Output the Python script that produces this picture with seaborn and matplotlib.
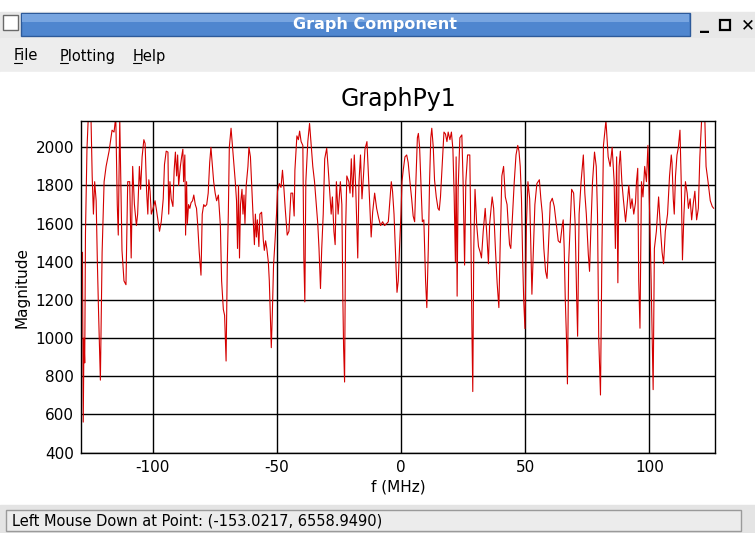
import matplotlib
matplotlib.use("Agg")
import matplotlib.pyplot as plt
from matplotlib.patches import Rectangle
import seaborn as sns
import pandas as pd

# ---------------- data ----------------
freq_mhz = [
    -128.2, -127.9, -127.6, -127.3, -127.0, -126.4, -125.8, -124.8, -124.3, -123.8,
    -123.3, -122.7, -122.2, -121.7, -121.0, -120.3, -119.5, -118.7, -117.5, -116.3,
    -115.5, -114.8, -114.2, -113.8, -113.2, -112.3, -111.5, -110.7, -110.0, -109.2,
    -108.6, -108.0, -107.3, -106.5, -106.0, -105.3, -104.8, -104.2, -103.5, -103.0,
    -102.4, -101.9, -101.5, -101.0, -100.5, -99.8, -99.0, -98.4, -97.2, -96.5,
    -95.7, -95.2, -94.5, -93.8, -93.5, -93.0, -92.5, -91.8, -91.3, -90.8,
    -90.3, -89.9, -89.5, -88.8, -88.3, -87.8, -87.5, -87.0, -86.7, -86.3,
    -86.0, -85.5, -85.0, -84.5, -83.9, -83.4, -82.8, -82.3, -81.8, -81.2,
    -80.5, -80.0, -79.4, -78.9, -78.2, -77.6, -77.0, -76.5, -76.0, -75.4,
    -74.8, -74.2, -73.5, -72.7, -72.2, -71.5, -71.0, -70.4, -69.9, -69.5,
    -69.1, -68.4, -67.8, -67.3, -66.7, -66.2, -65.8, -65.4, -65.0, -64.6,
    -64.0, -63.6, -63.2, -62.8, -62.3, -61.6, -61.2, -60.6, -60.1, -59.4,
    -59.0, -58.6, -58.2, -57.8, -57.2, -56.8, -56.1, -55.4, -55.0, -54.5,
    -54.0, -53.4, -53.0, -52.6, -52.2, -51.8, -51.3, -50.7, -50.1, -49.7,
    -49.0, -48.3, -47.7, -47.1, -46.6, -45.8, -45.1, -44.3, -43.6, -43.0,
    -42.7, -41.9, -41.3, -40.8, -40.2, -39.5, -39.1, -38.7, -38.3, -37.5,
    -36.8, -36.3, -35.5, -34.8, -34.1, -33.5, -33.0, -32.4, -31.9, -31.3,
    -30.7, -29.9, -29.3, -28.7, -28.1, -27.6, -27.0, -26.5, -26.0, -25.3,
    -24.4, -23.8, -23.4, -23.1, -22.7, -22.3, -21.8, -21.0, -20.5, -20.0,
    -19.4, -18.8, -18.2, -17.7, -17.4, -16.9, -16.3, -15.7, -15.1, -14.5,
    -13.7, -13.0, -12.5, -12.0, -11.4, -10.6, -9.8, -9.0, -8.2, -7.4,
    -6.6, -5.8, -5.1, -4.6, -3.9, -3.4, -2.8, -2.3, -1.6, -1.1,
    -0.6, 0.0, 0.4, 0.9, 1.6, 2.3, 2.9, 3.6, 4.3, 4.9,
    5.5, 6.0, 6.6, 7.0, 7.5, 8.0, 8.6, 9.2, 9.9, 10.4,
    11.0, 11.5, 12.0, 12.4, 13.0, 13.5, 14.2, 14.9, 15.4, 15.9,
    16.6, 17.3, 17.9, 18.5, 19.0, 19.7, 20.3, 20.9, 21.4, 21.9,
    22.2, 22.6, 23.0, 23.7, 24.5, 25.0, 25.6, 26.1, 26.8, 27.7,
    28.2, 28.6, 28.9, 29.3, 29.8, 30.5, 31.2, 31.9, 32.4, 33.1,
    33.9, 34.7, 35.2, 35.7, 36.7, 37.3, 38.0, 38.7, 39.4, 39.9,
    40.6, 41.3, 42.0, 42.7, 43.2, 43.7, 44.2, 44.8, 45.6, 46.3,
    47.0, 47.5, 48.0, 48.5, 49.0, 49.4, 49.9, 50.5, 51.1, 51.8,
    52.2, 52.7, 53.3, 53.9, 54.7, 55.7, 56.3, 56.9, 57.5, 58.2,
    58.8, 59.3, 60.1, 60.9, 61.7, 62.5, 63.3, 64.1, 64.9, 65.3,
    65.7, 66.1, 66.7, 67.0, 67.5, 68.0, 68.7, 69.5, 70.1, 70.7,
    71.1, 71.7, 72.5, 73.4, 74.0, 74.6, 75.4, 75.9, 76.4, 77.1,
    77.9, 78.6, 79.1, 79.6, 80.3, 80.9, 81.5, 82.5, 83.4, 84.2,
    85.0, 85.8, 86.3, 86.8, 87.3, 87.8, 88.3, 88.9, 89.5, 90.4,
    90.9, 91.7, 92.4, 93.0, 93.7, 94.4, 94.8, 95.3, 95.7, 96.2,
    96.8, 97.4, 98.1, 98.8, 99.4, 100.1, 100.7, 101.2, 101.5, 102.0,
    102.8, 103.7, 104.5, 105.1, 105.7, 106.4, 107.3, 108.1, 108.8, 109.1,
    109.6, 110.0, 110.5, 111.1, 111.6, 112.3, 112.8, 113.3, 113.9, 114.5,
    115.2, 115.7, 116.4, 117.0, 117.7, 118.3, 119.0, 119.7, 120.3, 121.0,
    121.6, 122.3, 122.8, 123.6, 124.5, 125.3, 125.9,
]
magnitude = [
    1450, 560, 1000, 870, 1550, 1990, 2180, 2170, 1850, 1650,
    1820, 1720, 1390, 1120, 780, 1450, 1820, 1900, 1980, 2090,
    2080, 2160, 1700, 1540, 2150, 1460, 1300, 1280, 1820, 1820,
    1420, 1900, 1700, 1590, 1650, 1900, 1780, 1950, 2040, 2020,
    1770, 1650, 1830, 1770, 1650, 1680, 1720, 1670, 1560, 1610,
    1730, 1910, 1980, 1975, 1650, 1820, 1730, 1690, 1880, 1975,
    1850, 1960, 1800, 1900, 1950, 1990, 1820, 1960, 1540, 1820,
    1600, 1700, 1680, 1710, 1720, 1750, 1700, 1680, 1590, 1450,
    1330, 1650, 1700, 1690, 1700, 1760, 1920, 2000, 1920, 1820,
    1760, 1720, 1750, 1590, 1300, 1150, 1120, 880, 1400, 1650,
    2000, 2100, 2000, 1920, 1820, 1720, 1470, 1800, 1420, 1700,
    1780, 1650, 1750, 1600, 1800, 1900, 2000, 1950, 1800, 1600,
    1490, 1650, 1530, 1620, 1480, 1650, 1660, 1510, 1460, 1510,
    1470, 1400, 1300, 1120, 950, 1120, 1380, 1510, 1650, 1770,
    1810, 1790, 1880, 1780, 1680, 1540, 1560, 1760, 1760, 1640,
    1880, 2060, 2040, 2085, 2030, 2010, 1420, 1190, 1820, 2030,
    2125, 2040, 1900, 1820, 1700, 1600, 1470, 1260, 1470, 1650,
    1940, 1995, 1890, 1770, 1650, 1740, 1560, 1490, 1820, 1650,
    1820, 1700, 1210, 950, 770, 1560, 1850, 1820, 1760, 1940,
    1740, 1960, 1780, 1560, 1420, 1820, 1960, 1730, 1850, 1990,
    2030, 1830, 1680, 1530, 1660, 1760, 1680, 1630, 1590, 1610,
    1590, 1600, 1610, 1700, 1820, 1770, 1650, 1480, 1240, 1300,
    1470, 1650, 1820, 1880, 1950, 1960, 1920, 1820, 1730, 1640,
    1610, 1820, 2050, 2073, 2000, 1820, 1610, 1620, 1300, 1160,
    1470, 1820, 2050, 2100, 2000, 1830, 1740, 1680, 1670, 1740,
    1910, 2080, 2070, 2030, 2080, 2040, 2080, 1990, 1750, 1400,
    1950, 1220, 1780, 2050, 2065, 1820, 1383, 1820, 1960, 1960,
    1470, 1000, 720, 1470, 1780, 1590, 1480, 1450, 1420, 1560,
    1680, 1510, 1390, 1600, 1740, 1680, 1470, 1290, 1160, 1470,
    1850, 1900, 1740, 1700, 1590, 1490, 1470, 1620, 1820, 1960,
    2010, 1980, 1900, 1730, 1400, 1200, 1050, 1600, 1820, 1730,
    1520, 1230, 1470, 1700, 1810, 1830, 1730, 1650, 1470, 1350,
    1313, 1470, 1710, 1733, 1690, 1600, 1510, 1500, 1590, 1620,
    1470, 1220, 960, 760, 1400, 1560, 1780, 1760, 1600, 1220,
    1010, 1650, 1820, 1960, 1760, 1650, 1440, 1350, 1560, 1820,
    1975, 1900, 1650, 1000, 702, 1470, 2010, 2140, 1950, 1900,
    2000, 1820, 1470, 1950, 1290, 1900, 1980, 1820, 1730, 1610,
    1680, 1800, 1680, 1730, 1650, 1710, 1820, 1890, 1300, 1052,
    1820, 1740, 1900, 1820, 2010, 1650, 1300, 950, 730, 1470,
    1560, 1740, 1560, 1450, 1390, 1560, 1650, 1850, 1960, 1920,
    1730, 1650, 1850, 1960, 1995, 2090, 1820, 1410, 1650, 1820,
    1760, 1680, 1730, 1620, 1710, 1770, 1620, 1680, 1950, 2140,
    2170, 2150, 1900, 1820, 1720, 1690, 1680,
]
x_ticks = [-100, -50, 0, 50, 100]
y_ticks = [400, 600, 800, 1000, 1200, 1400, 1600, 1800, 2000]

chart_title = "GraphPy1"
x_label = "f (MHz)"
y_label = "Magnitude"
window_title = "Graph Component"
menu_items = ["File", "Plotting", "Help"]
status_text = "Left Mouse Down at Point: (-153.0217, 6558.9490)"

df = pd.DataFrame({"f": freq_mhz, "mag": magnitude})

# ---------------- figure ----------------
sns.set_style("white")
plt.rcParams["font.family"] = ["DejaVu Sans"]
plt.rcParams["axes.unicode_minus"] = False
plt.rcParams["text.color"] = "black"
plt.rcParams["axes.labelcolor"] = "black"

W, H = 755, 533
fig = plt.figure(figsize=(W / 100, H / 100), dpi=100)

# window chrome drawn in pixel coordinates
bg = fig.add_axes([0, 0, 1, 1], zorder=0)
bg.set_xlim(0, W)
bg.set_ylim(H, 0)
bg.axis("off")

bg.add_patch(Rectangle((0, 0), W, 12, color="white"))
# title bar
bg.add_patch(Rectangle((0, 12), W, 26, color="#e8e8e8"))
bg.add_patch(Rectangle((3, 15), 15, 15, facecolor="white", edgecolor="#6a6a6a", lw=1))
bg.add_patch(Rectangle((21, 13), 669, 23, facecolor="#4f86cf", edgecolor="#2d5a9a", lw=1))
bg.add_patch(Rectangle((22, 14), 667, 8, facecolor="#78a5e0", edgecolor="none"))
bg.text(375, 25, window_title, color="white", fontsize=11.5, fontweight="bold",
        ha="center", va="center")
bg.text(704, 24, "_", fontsize=13, fontweight="bold", ha="center", va="center")
bg.add_patch(Rectangle((720, 20), 10, 10, facecolor="none", edgecolor="black", lw=1.6))
bg.text(748, 25, "\u2715", fontsize=12, fontweight="bold", ha="center", va="center")
# menu bar
bg.add_patch(Rectangle((0, 38), W, 34, color="#ededed"))
menu_x = [14, 60, 133]
for mx, item in zip(menu_x, menu_items):
    bg.text(mx, 56, item, fontsize=10.5, ha="left", va="center")
    bg.plot([mx, mx + 8], [63, 63], color="black", lw=0.8)
# chart area
bg.add_patch(Rectangle((0, 72), W, 433, color="white"))
# status bar
bg.add_patch(Rectangle((0, 505), W, 28, color="#e4e4e4"))
bg.add_patch(Rectangle((6, 510), 735, 21, facecolor="#ececec", edgecolor="#9a9a9a", lw=1))
bg.text(12, 521, status_text, fontsize=10.5, ha="left", va="center")

# plot axes
L, R, T, B = 81, 715, 121, 453
ax = fig.add_axes([L / W, 1 - B / H, (R - L) / W, (B - T) / H], zorder=1)
ax.set_facecolor("white")

sns.lineplot(data=df, x="f", y="mag", ax=ax, color="#d40000", linewidth=0.8,
             estimator=None, sort=False)

ax.set_xlim(-128.8, 126.4)
ax.set_ylim(398, 2138)
ax.set_xticks(x_ticks)
ax.set_yticks(y_ticks)
ax.grid(True, color="black", linewidth=1.0)
ax.set_axisbelow(True)
for s in ax.spines.values():
    s.set_color("black")
    s.set_linewidth(1.0)
ax.tick_params(axis="both", labelsize=11, length=0, pad=5, colors="black")
ax.set_title(chart_title, fontsize=17, pad=11, color="black")
ax.set_xlabel(x_label, fontsize=11, labelpad=3, color="black")
ax.set_ylabel(y_label, fontsize=11, labelpad=4, color="black")

fig.savefig("out.png", dpi=100)
